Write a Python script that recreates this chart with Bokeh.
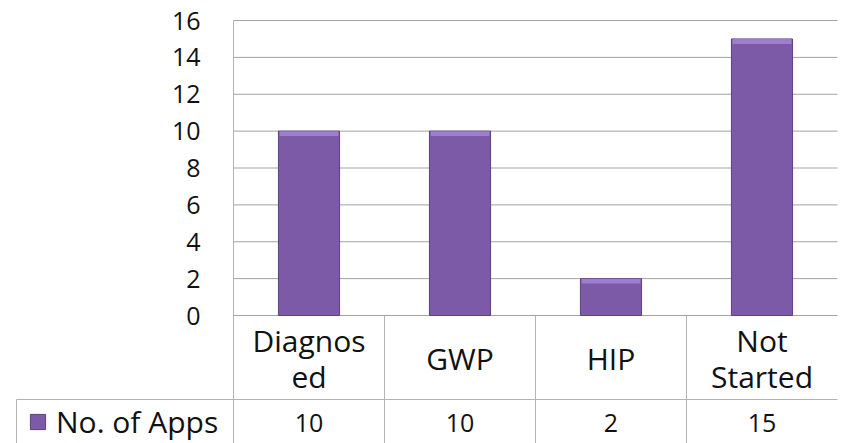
from bokeh.plotting import figure
from bokeh.models import Range1d, FixedTicker, Legend, LegendItem, LinearAxis
from bokeh.core.properties import value
from bokeh.embed import file_html
from bokeh.resources import INLINE

# ---- data ----
categories = ["Diagnosed", "GWP", "HIP", "Not Started"]
category_labels = ["Diagnos\ned", "GWP", "HIP", "Not\nStarted"]
apps = [10, 10, 2, 15]
series_name = "No. of Apps"
y_ticks = [0, 2, 4, 6, 8, 10, 12, 14, 16]
value_labels = [str(v) for v in apps]

# ---- layout constants (pixels) ----
W, H = 842, 443
AREA_LEFT = 233      # plot-area left edge (px)
CELL_LEFT = 16       # data-table legend cell left edge (px)
RIGHT_PAD = 5
ZERO_Y = 315         # px y of value 0
Y16 = 20             # px y of value 16
ROW_Y = 399          # px y of table row separator
PX = (ZERO_Y - Y16) / 16.0
FRAME_W = W - RIGHT_PAD
CAT_W = (FRAME_W - AREA_LEFT) / 4.0

def ydata(py):
    return (ZERO_Y - py) / PX

def xdata(px):
    return -0.5 + (px - AREA_LEFT) / CAT_W

y_end = ydata(0)
y_start = ydata(H)
x_start = xdata(0)
x_end = xdata(FRAME_W)

FONT = value("Open Sans")
TXT = "#111111"
GRID = "#a3a3a3"
TABLE = "#b3b3b3"
BAR = "#7c5aa8"
BAR_LINE = "#5b3f84"
BAR_TOP = "#a688d6"

p = figure(width=W, height=H, output_backend="svg", toolbar_location=None,
           x_range=Range1d(x_start, x_end), y_range=Range1d(y_start, y_end),
           x_axis_location=None, y_axis_location=None,
           min_border_left=0, min_border_right=RIGHT_PAD,
           min_border_top=0, min_border_bottom=0)
p.outline_line_color = None
p.grid.grid_line_color = None
p.background_fill_color = "white"
p.border_fill_color = "white"

n = len(categories)
xs = list(range(n))
right_x = n - 0.5 + 1.0 / CAT_W
row_y = ydata(ROW_Y)
cell_x = xdata(CELL_LEFT)

# y axis drawn at the plot-area's left edge
yax = LinearAxis(fixed_location=-0.5, ticker=FixedTicker(ticks=y_ticks))
yax.axis_line_color = None
yax.major_tick_line_color = None
yax.minor_tick_line_color = None
yax.major_tick_in = 0
yax.major_tick_out = 0
yax.major_label_standoff = 33
yax.major_label_text_font = "Open Sans"
yax.major_label_text_font_size = "25px"
yax.major_label_text_color = TXT
p.add_layout(yax, "left")

# horizontal gridlines across the plot area
p.segment(x0=[-0.5] * len(y_ticks), y0=y_ticks, x1=[right_x] * len(y_ticks), y1=y_ticks,
          line_color=GRID, line_width=1)

# bars
bars = p.vbar(x=xs, top=apps, width=0.405, bottom=0, fill_color=BAR,
              line_color=BAR_LINE, line_width=1)
p.vbar(x=xs, top=apps, bottom=[a - 0.27 for a in apps], width=0.39,
       fill_color=BAR_TOP, line_color=None, fill_alpha=0.8)

# data-table lines
p.segment(x0=[-0.5], y0=[y_ticks[-1]], x1=[-0.5], y1=[y_start], line_color=TABLE, line_width=1)
sep = [i + 0.5 for i in xs[:-1]] + [right_x]
p.segment(x0=sep, y0=[0] * len(sep), x1=sep, y1=[y_start] * len(sep),
          line_color=TABLE, line_width=1)
p.segment(x0=[cell_x], y0=[row_y], x1=[right_x], y1=[row_y], line_color=TABLE, line_width=1)
p.segment(x0=[cell_x], y0=[row_y], x1=[cell_x], y1=[y_start], line_color=TABLE, line_width=1)

# category labels
p.text(x=xs, y=[ydata(358)] * n, text=category_labels,
       text_font=FONT, text_font_size="30px", text_align="center",
       text_baseline="middle", text_line_height=0.86, text_color=TXT)

# value row
p.text(x=xs, y=[ydata(422)] * n, text=value_labels,
       text_font=FONT, text_font_size="25px", text_align="center",
       text_baseline="middle", text_color=TXT)

# legend key in the table's first cell
legend = Legend(items=[LegendItem(label=series_name, renderers=[bars])],
                location=(28, 1), padding=0, margin=0, spacing=0,
                glyph_width=19, glyph_height=19, label_standoff=9,
                label_height=19,
                label_text_font="Open Sans", label_text_font_size="30px",
                label_text_color=TXT, background_fill_alpha=0,
                border_line_color=None)
p.add_layout(legend)

open("out.html", "w").write(file_html(p, INLINE))
